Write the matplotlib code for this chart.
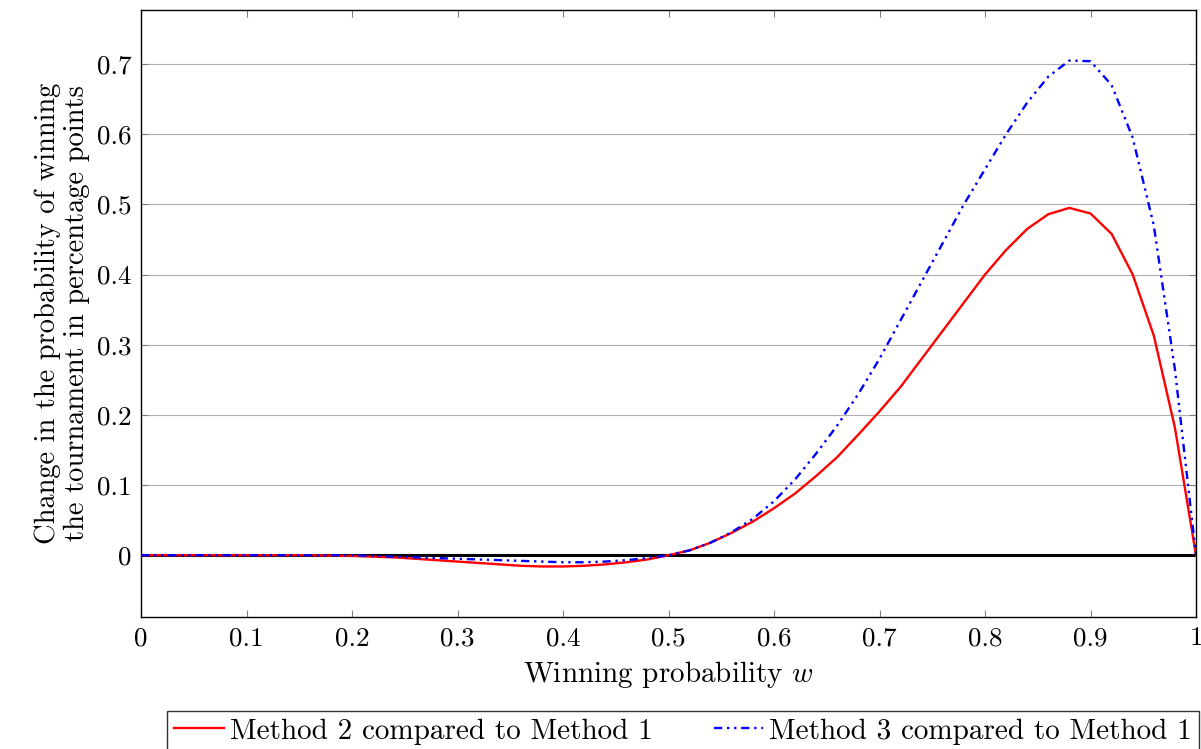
import matplotlib
matplotlib.use("Agg")
import matplotlib.pyplot as plt

plt.rcParams['font.family'] = 'serif'
plt.rcParams['font.serif'] = ['cmr10', 'DejaVu Serif']
plt.rcParams['mathtext.fontset'] = 'cm'
plt.rcParams['axes.formatter.use_mathtext'] = True

# winning probability grid
w = [0.00, 0.02, 0.04, 0.06, 0.08, 0.10, 0.12, 0.14, 0.16, 0.18,
     0.20, 0.22, 0.24, 0.26, 0.28, 0.30, 0.32, 0.34, 0.36, 0.38,
     0.40, 0.42, 0.44, 0.46, 0.48, 0.50, 0.52, 0.54, 0.56, 0.58,
     0.60, 0.62, 0.64, 0.66, 0.68, 0.70, 0.72, 0.74, 0.76, 0.78,
     0.80, 0.82, 0.84, 0.86, 0.88, 0.90, 0.92, 0.94, 0.96, 0.98, 1.00]

method2 = [0.0, 0.0, 0.0, 0.0, 0.0, 0.0, 0.0, 0.0, 0.0, -0.0005,
           -0.001, -0.002, -0.003, -0.005, -0.007, -0.009, -0.011, -0.013, -0.015, -0.016,
           -0.016, -0.015, -0.013, -0.010, -0.006, 0.0, 0.007, 0.018, 0.032, 0.048,
           0.067, 0.088, 0.113, 0.140, 0.172, 0.205, 0.240, 0.280, 0.320, 0.360,
           0.400, 0.435, 0.465, 0.486, 0.495, 0.487, 0.458, 0.400, 0.313, 0.182, 0.0]

method3 = [0.0, 0.0, 0.0, 0.0, 0.0, 0.0, 0.0, 0.0, 0.0, 0.0,
           0.0, -0.001, -0.002, -0.003, -0.004, -0.005, -0.006, -0.007, -0.008, -0.009,
           -0.010, -0.010, -0.009, -0.007, -0.004, 0.0, 0.007, 0.018, 0.033, 0.052,
           0.077, 0.108, 0.145, 0.185, 0.230, 0.280, 0.335, 0.390, 0.445, 0.500,
           0.550, 0.600, 0.645, 0.682, 0.705, 0.704, 0.670, 0.595, 0.470, 0.265, 0.0]

xticks = [0, 0.1, 0.2, 0.3, 0.4, 0.5, 0.6, 0.7, 0.8, 0.9, 1]
yticks = [0, 0.1, 0.2, 0.3, 0.4, 0.5, 0.6, 0.7]

fig = plt.figure(figsize=(12.01, 7.49), dpi=100)
ax = fig.add_axes([141 / 1201, 1 - 617 / 749, 1055 / 1201, 607 / 749])

ax.axhline(0, color='black', lw=2.2, zorder=2)
ax.plot(w, method2, color='red', lw=1.7, label='Method 2 compared to Method 1', zorder=3)
ax.plot(w, method3, color='blue', lw=1.7, dashes=(3.5, 2, 1, 2, 1, 2),
        label='Method 3 compared to Method 1', zorder=3)

ax.set_xlim(0, 1)
ax.set_ylim(-0.088, 0.777)
ax.set_xticks(xticks)
ax.set_xticklabels(['0', '0.1', '0.2', '0.3', '0.4', '0.5', '0.6', '0.7', '0.8', '0.9', '1'])
ax.set_yticks(yticks)
ax.set_yticklabels(['0', '0.1', '0.2', '0.3', '0.4', '0.5', '0.6', '0.7'])
ax.yaxis.grid(True, color='#b0b0b0', lw=0.8)
ax.set_axisbelow(True)
ax.tick_params(direction='in', top=True, right=True, labelsize=19.5, length=5,
               color='#808080', pad=7)
for s in ax.spines.values():
    s.set_linewidth(1.0)

ax.set_xlabel('Winning probability $w$', fontsize=21, labelpad=6)
ax.set_ylabel('Change in the probability of winning\nthe tournament in percentage points',
              fontsize=20.5, labelpad=5, linespacing=1.1)

leg = ax.legend(loc='upper left', bbox_to_anchor=(167 / 1201, 1 - 711 / 749),
                bbox_transform=fig.transFigure, ncol=2, fontsize=21, frameon=True,
                fancybox=False, edgecolor='black', handlelength=1.7, handletextpad=0.2,
                columnspacing=2.1, borderpad=0.25, borderaxespad=0)
leg.get_frame().set_linewidth(1.0)

fig.savefig('out.png', dpi=100)
